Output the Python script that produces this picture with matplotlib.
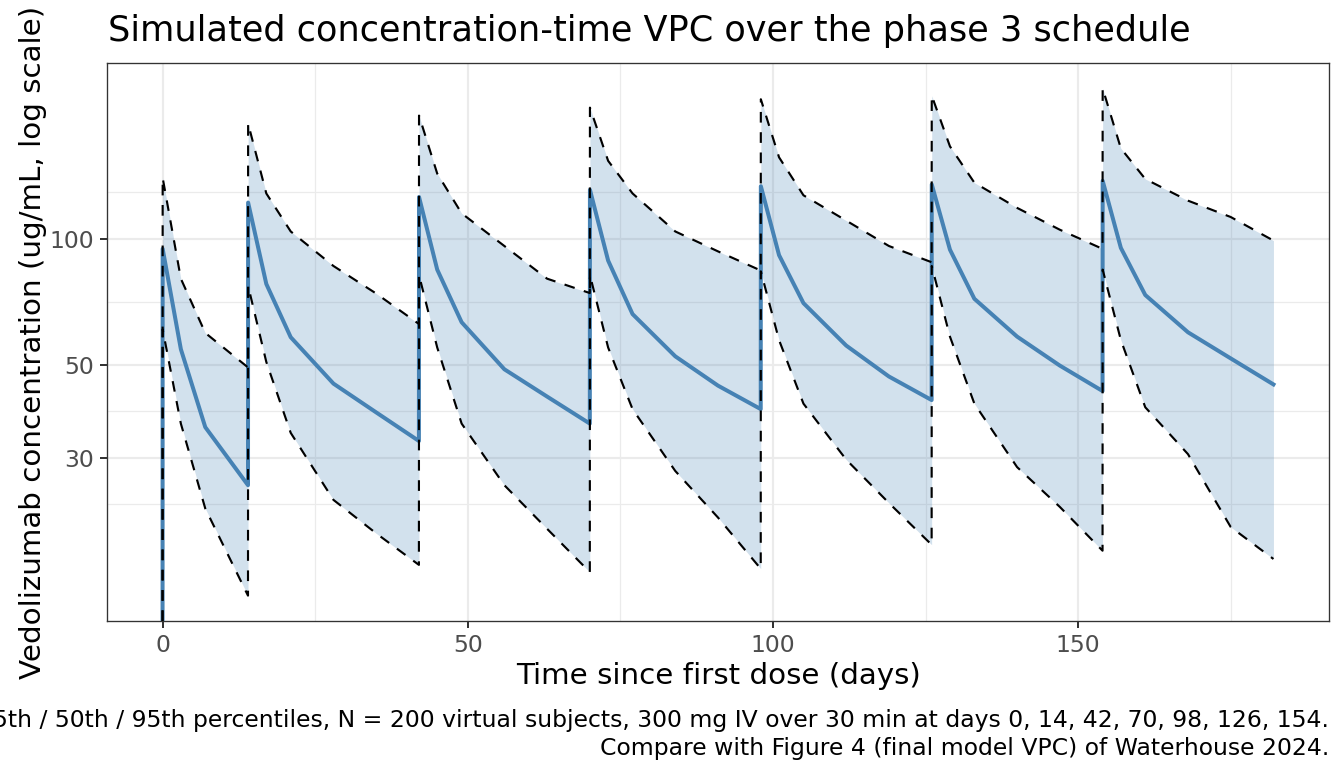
"""Simulated VPC: 5th/50th/95th percentile concentration-time over the phase 3 schedule."""
import numpy as np
import matplotlib
matplotlib.use("Agg")
import matplotlib.pyplot as plt
from matplotlib.ticker import FixedLocator, NullFormatter

# sample times (days); dose at 0, 14, 42, 70, 98, 126, 154 (0.02 = end of 30 min infusion)
days = [0, 0.02, 3, 7,
        14, 14.02, 17, 21, 28, 35,
        42, 42.02, 45, 49, 56, 63,
        70, 70.02, 73, 77, 84, 91,
        98, 98.02, 101, 105, 112, 119,
        126, 126.02, 129, 133, 140, 147,
        154, 154.02, 157, 161, 168, 175, 182]

p50 = [0, 94.6, 54.5, 35.5,
       25.8, 122.0, 78.0, 58.2, 45.1, 38.5,
       32.9, 125.8, 84.4, 63.2, 48.8, 42.0,
       36.2, 130.9, 88.7, 66.1, 52.4, 44.6,
       39.2, 133.5, 91.4, 70.2, 55.6, 46.9,
       41.2, 134.8, 94.2, 71.9, 58.4, 49.8,
       43.3, 137.5, 95.1, 73.4, 59.8, 51.8, 44.9]

p05 = [0, 60.8, 36.2, 22.7,
       14.06, 77.2, 50.8, 34.4, 23.8, 19.8,
       16.65, 81.9, 55.0, 36.2, 25.8, 20.3,
       16.0, 81.9, 55.0, 39.2, 27.9, 21.6,
       16.3, 83.6, 57.3, 40.4, 29.7, 23.4,
       18.6, 86.1, 58.4, 40.4, 28.5, 22.9,
       18.0, 84.4, 57.3, 39.6, 30.6, 20.5, 17.2]

p95 = [0, 139.8, 80.3, 59.6,
       49.3, 188.4, 128.3, 104.1, 86.1, 74.0,
       62.6, 196.8, 143.1, 115.0, 96.1, 80.3,
       74.2, 205.6, 153.5, 128.3, 104.1, 93.3,
       84.0, 215.3, 156.5, 127.0, 110.5, 96.1,
       87.9, 219.6, 166.2, 136.1, 118.5, 105.1,
       94.6, 228.6, 164.4, 138.9, 123.3, 112.7, 99.0]

y_breaks = [30, 50, 100]
x_breaks = [0, 50, 100, 150]

t = np.array(days)
med = np.array(p50, dtype=float)
lo = np.array(p05, dtype=float)
hi = np.array(p95, dtype=float)

# ggplot-like limits: finite range + 5% expansion (log space for y)
allv = np.concatenate([med, lo, hi])
pos = allv[allv > 0]
llo, lhi = np.log10(pos.min()), np.log10(pos.max())
pad = 0.05 * (lhi - llo)
ylim = (10 ** (llo - pad), 10 ** (lhi + pad))
xpad = 0.05 * (t.max() - t.min())
xlim = (t.min() - xpad, t.max() + xpad)

# zero (log -> -Inf) drawn at the panel edge
floor = ylim[0]
med_p = np.where(med > 0, med, floor)
lo_p = np.where(lo > 0, lo, floor)
hi_p = np.where(hi > 0, hi, floor)

# minor breaks the way ggplot places them on the transformed scale
lb = np.log10(y_breaks)
bd = lb[1] - lb[0]
ext = np.concatenate([[lb[0] - bd], lb, [lb[-1] + bd]])
y_minor = [10 ** ((a + b) / 2) for a, b in zip(ext[:-1], ext[1:])]
x_minor = [25, 75, 125, 175]

W, H = 1344, 768
fig = plt.figure(figsize=(7, 4), dpi=192)
ax = fig.add_axes([107 / W, 1 - 621 / H, (1329 - 107) / W, (621 - 63) / H])

ax.set_yscale("log")
ax.set_xlim(xlim)
ax.set_ylim(ylim)

ax.fill_between(t, lo_p, hi_p, color="#4682B4", alpha=0.24, lw=0, zorder=2)
ax.plot(t, med_p, color="#4682B4", lw=1.5, zorder=3, solid_joinstyle="round")
for q in (lo_p, hi_p):
    ax.plot(t, q, color="black", lw=0.8, dashes=(5, 4.5), zorder=4)

ax.yaxis.set_major_locator(FixedLocator(y_breaks))
ax.yaxis.set_minor_locator(FixedLocator(y_minor))
ax.yaxis.set_minor_formatter(NullFormatter())
ax.set_yticklabels([str(v) for v in y_breaks])
ax.xaxis.set_major_locator(FixedLocator(x_breaks))
ax.xaxis.set_minor_locator(FixedLocator(x_minor))

ax.grid(which="major", color="#EBEBEB", lw=0.8, zorder=0)
ax.grid(which="minor", color="#EBEBEB", lw=0.45, zorder=0)
ax.set_axisbelow(True)
ax.tick_params(which="major", length=2.75, width=0.75, color="#333333",
               labelsize=8.8, labelcolor="#4D4D4D", pad=2.2)
ax.tick_params(which="minor", length=0)
for s in ax.spines.values():
    s.set_color("#333333")
    s.set_linewidth(0.5)

fig.text(108 / W, 1 - 41 / H, "Simulated concentration-time VPC over the phase 3 schedule",
         fontsize=13.2, ha="left", va="baseline")
fig.text(718 / W, 1 - 676 / H, "Time since first dose (days)", fontsize=11,
         ha="center", va="center")
fig.text(33 / W, 1 - 342 / H, "Vedolizumab concentration (ug/mL, log scale)", fontsize=11,
         ha="center", va="center", rotation=90)
fig.text(1329 / W, 1 - 709 / H,
         "5th / 50th / 95th percentiles, N = 200 virtual subjects, 300 mg IV over 30 min at days 0, 14, 42, 70, 98, 126, 154.\n"
         "Compare with Figure 4 (final model VPC) of Waterhouse 2024.",
         fontsize=8.8, ha="right", va="top", multialignment="right", linespacing=1.25)

fig.savefig("out.png", dpi=192)
